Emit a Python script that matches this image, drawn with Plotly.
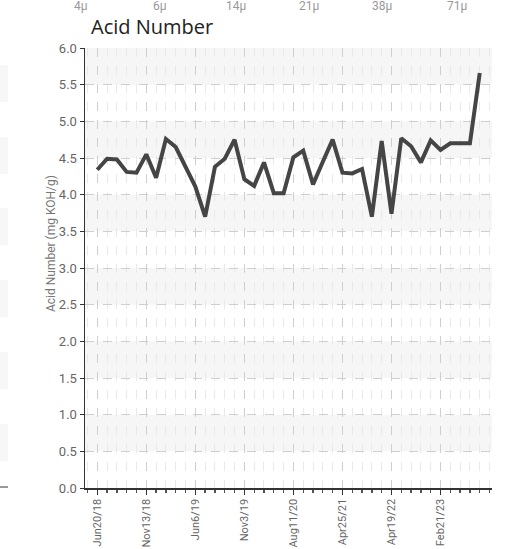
import plotly.graph_objects as go

# ---- data ----
sample_index = list(range(40))
acid_number = [4.34, 4.49, 4.48, 4.31, 4.30, 4.55, 4.23, 4.76, 4.65, 4.38,
               4.11, 3.70, 4.38, 4.49, 4.75, 4.21, 4.12, 4.44, 4.02, 4.02,
               4.51, 4.60, 4.14, 4.45, 4.75, 4.30, 4.29, 4.35, 3.70, 4.73,
               3.74, 4.77, 4.66, 4.44, 4.74, 4.61, 4.70, 4.70, 4.70, 5.66]
tick_positions = [0, 5, 10, 15, 20, 25, 30, 35]
tick_labels = ["Jun20/18", "Nov13/18", "Jun6/19", "Nov3/19",
               "Aug11/20", "Apr25/21", "Apr19/22", "Feb21/23"]
y_ticks = [0.0, 0.5, 1.0, 1.5, 2.0, 2.5, 3.0, 3.5, 4.0, 4.5, 5.0, 5.5, 6.0]
top_labels = ["4μ", "6μ", "14μ", "21μ", "38μ", "71μ"]
top_label_x = [81, 160, 236, 309, 382, 457]

W, H = 508, 549
L, R, T, B = 85, 16, 48, 61
PW, PH = W - L - R, H - T - B
COND = "Roboto, Liberation Sans, sans-serif"


def px_x(x):
    return (x - L) / PW


def px_y(y):
    return (H - B - y) / PH


fig = go.Figure()
fig.add_trace(go.Scatter(
    x=sample_index, y=acid_number, mode="lines",
    line=dict(color="#454545", width=4),
    hoverinfo="skip", showlegend=False))

shapes = []
# alternating bands
for i in range(len(y_ticks) - 1):
    if i % 2 == 1:
        shapes.append(dict(type="rect", xref="paper", yref="y",
                           x0=0, x1=1, y0=y_ticks[i], y1=y_ticks[i + 1],
                           fillcolor="#f6f6f6", line=dict(width=0), layer="below"))
# remnant of the neighbouring chart on the left edge
for y0 in [65, 137, 208, 280, 352, 424]:
    shapes.append(dict(type="rect", xref="paper", yref="paper",
                       x0=px_x(0), x1=px_x(8), y0=px_y(y0 + 37), y1=px_y(y0),
                       fillcolor="#f7f7f7", line=dict(width=0), layer="below"))
shapes.append(dict(type="line", xref="paper", yref="paper",
                   x0=px_x(0), x1=px_x(8), y0=px_y(487), y1=px_y(487),
                   line=dict(color="#777777", width=1.5)))

annotations = []
for t, xp in zip(top_labels, top_label_x):
    annotations.append(dict(text=t, xref="paper", yref="paper",
                            x=px_x(xp), y=px_y(6),
                            xanchor="center", yanchor="middle", showarrow=False,
                            font=dict(family=COND, size=12, color="#999999")))
annotations.append(dict(text="Acid Number (mg KOH/g)", xref="paper", yref="paper",
                        x=px_x(51), y=px_y(244), textangle=-90,
                        xanchor="center", yanchor="middle", showarrow=False,
                        font=dict(family=COND, size=12, color="#777777")))

fig.update_layout(
    width=W, height=H,
    margin=dict(l=L, r=R, t=T, b=B, autoexpand=False),
    paper_bgcolor="white", plot_bgcolor="white",
    title=dict(text="Acid Number", x=91 / W, xanchor="left",
               xref="container", yref="container", y=1 - 27 / H, yanchor="middle",
               font=dict(family="Open Sans, sans-serif", size=20, color="#222222")),
    shapes=shapes, annotations=annotations,
    xaxis=dict(range=[-1.25, 40.25], tickmode="array", tickvals=tick_positions,
               ticktext=tick_labels, tickangle=-90, automargin=False,
               ticks="outside", ticklen=5, tickwidth=1.3, tickcolor="#333333",
               showline=True, linecolor="#333333", linewidth=1.5,
               showgrid=True, gridcolor="#cfcfcf", griddash="dash", gridwidth=1,
               zeroline=False,
               tickfont=dict(family=COND, size=11, color="#666666"),
               minor=dict(tickmode="linear", tick0=0, dtick=1, ticks="outside",
                          ticklen=3, tickcolor="#555555", showgrid=True,
                          gridcolor="#e9e9e9", griddash="dash", gridwidth=1)),
    yaxis=dict(range=[0, 6], tickmode="array", tickvals=y_ticks,
               ticktext=[f"{v:.1f}" for v in y_ticks], automargin=False,
               ticks="outside", ticklen=4, tickcolor="#333333",
               showline=True, linecolor="#333333", linewidth=1.5,
               showgrid=True, gridcolor="#cfcfcf", griddash="dash", gridwidth=1,
               zeroline=False,
               tickfont=dict(family=COND, size=13, color="#666666")),
)

fig.write_html("out.html",
               config={"displayModeBar": False, "staticPlot": True},
               post_script="document.body.style.margin='0px';document.body.style.overflow='hidden';")
